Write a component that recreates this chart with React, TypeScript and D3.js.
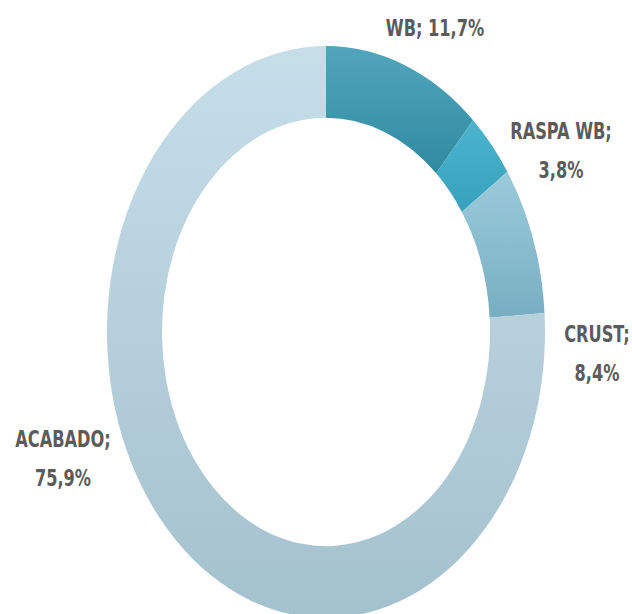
import React from "react";
import * as d3 from "d3";

const categories = ["WB", "RASPA WB", "CRUST", "ACABADO"];
const values = [11.7, 3.8, 8.4, 75.9];
const valueLabels = ["11,7%", "3,8%", "8,4%", "75,9%"];
// gradient stops per slice (top, bottom)
const colorsTop = ["#52a5bd", "#4cb4cd", "#9acbdb", "#c6dee8"];
const colorsBottom = ["#2f8aa1", "#37a2bd", "#78aec2", "#a4c1ce"];
// label lines and anchor positions (layout)
const labelLines = [
  ["WB; 11,7%"],
  ["RASPA WB;", "3,8%"],
  ["CRUST;", "8,4%"],
  ["ACABADO;", "75,9%"],
];
const labelPos = [
  [435, 28],
  [561, 131],
  [597, 334],
  [63, 439],
];

const W = 632;
const H = 614;
const CX = 326;
const CY = 332;
const R = 219;
const RIN = 164;
const SY = 286 / 219;

export default function App() {
  const data = categories.map((c, i) => ({ c, v: values[i], l: valueLabels[i], i }));
  const pie = d3.pie<any>().value((d) => d.v).sort(null);
  const arcs = pie(data);
  const arc = d3.arc<any>().innerRadius(RIN).outerRadius(R);
  const lineGap = 39.5;
  return (
    <div style={{ position: "absolute", left: 0, top: 0 }}>
      <svg width={W} height={H} style={{ display: "block" }}>
        <defs>
          {data.map((d, i) => (
            <linearGradient key={i} id={`g${i}`} x1="0" y1="0" x2="0" y2="1">
              <stop offset="0%" stopColor={colorsTop[i]} />
              <stop offset="100%" stopColor={colorsBottom[i]} />
            </linearGradient>
          ))}
        </defs>
        <rect width={W} height={H} fill="#ffffff" />
        <g transform={`translate(${CX},${CY}) scale(1,${SY})`}>
          {arcs.map((a, i) => (
            <path key={i} d={arc(a) as string} fill={`url(#g${i})`} />
          ))}
        </g>
        {labelLines.map((lines, i) => (
          <g key={i}>
            {lines.map((t, j) => (
              <text
                key={j}
                transform={`translate(${labelPos[i][0]},${labelPos[i][1] + j * lineGap}) scale(1,1.25)`}
                textAnchor="middle"
                dominantBaseline="central"
                fontFamily="'Liberation Sans Narrow', 'DejaVu Sans Condensed', 'Roboto', sans-serif"
                fontWeight="bold"
                fontSize={18}
                fill="#5b5b5b"
              >
                {t}
              </text>
            ))}
          </g>
        ))}
      </svg>
    </div>
  );
}
